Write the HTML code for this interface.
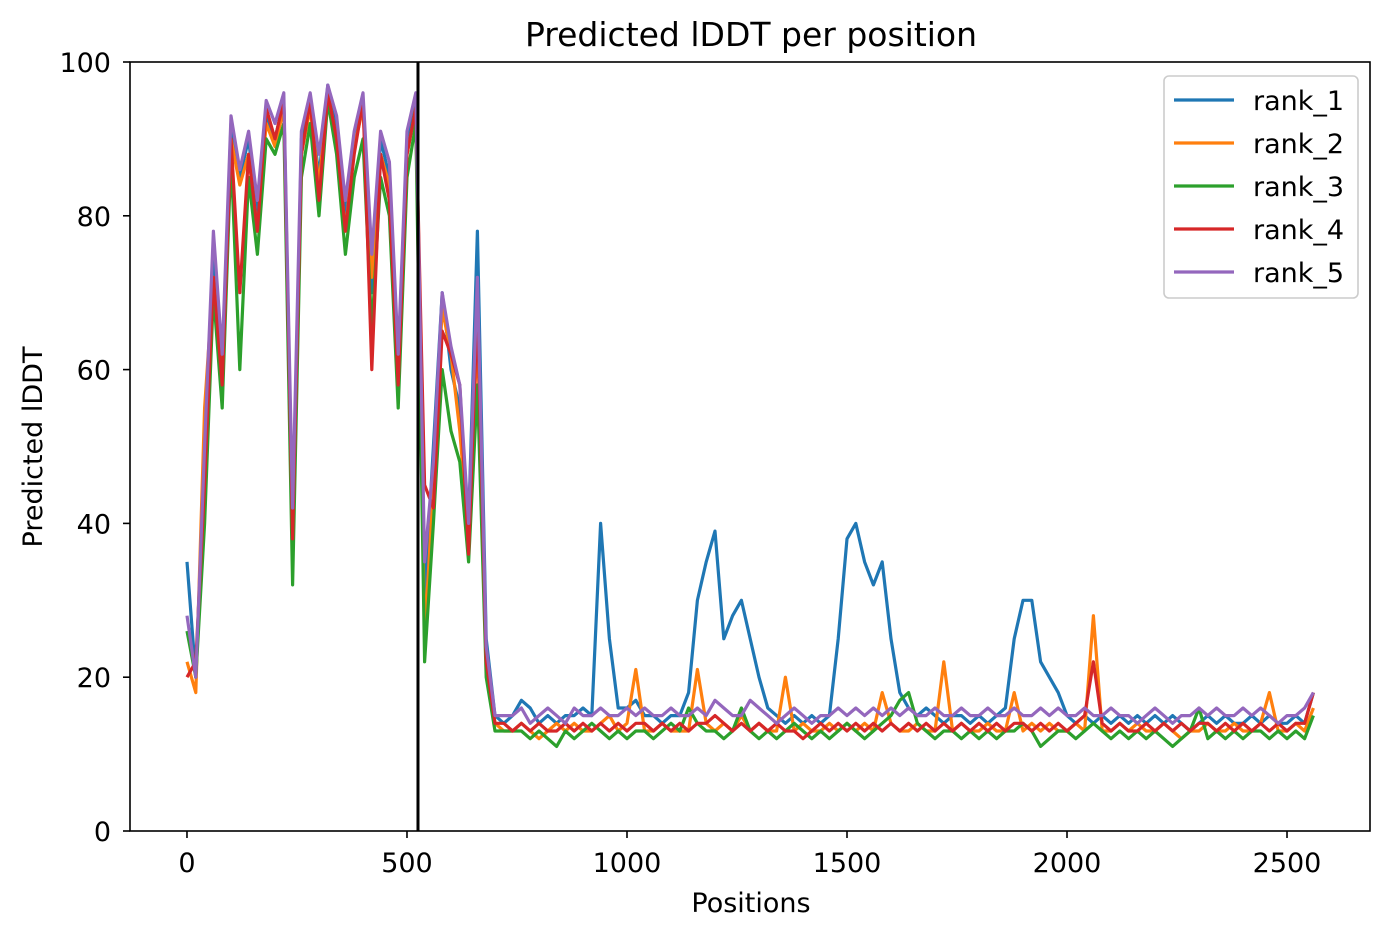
<!DOCTYPE html>
<html><head><meta charset="utf-8"><style>
body{margin:0;background:#fff;}
svg{display:block;font-family:"DejaVu Sans","Liberation Sans",sans-serif;}
</style></head><body>
<svg id="chart" width="1391" height="939" xmlns="http://www.w3.org/2000/svg">
<text x="751" y="46" style="font-size:33px" text-anchor="middle">Predicted lDDT per position</text>
<text x="751" y="912" style="font-size:27px" text-anchor="middle">Positions</text>
<text transform="translate(42,447) rotate(-90)" style="font-size:27px" text-anchor="middle">Predicted lDDT</text>
<g id="plot"></g>
</svg>
<script>
const step = 20;
const xTicks = [0,500,1000,1500,2000,2500];
const yTicks = [0,20,40,60,80,100];
const seriesNames = ["rank_1","rank_2","rank_3","rank_4","rank_5"];
const colors = ["#1f77b4","#ff7f0e","#2ca02c","#d62728","#9467bd"];
const boundary = 525;
const rank1 = [35,20,45,75,60,92,85,90,80,93,90,95,35,90,95,85,97,92,80,90,95,70,90,85,60,90,95,30,50,70,60,55,40,78,25,15,
14,15,17,16,14,15,14,15,15,16, 15,40,25,16,16,17,15,15,14,15, 15,18,30,35,39,25,28,30,25,20, 16,15,14,15,14,15,14,15,25,38,
40,35,32,35,25,18,16,15,16,15, 14,15,15,14,15,14,15,16,25,30, 30,22,20,18,15,14,15,14,15,14, 15,14,15,14,15,14,15,14,13,14,
15,14,15,14,14,15,14,15,14,14, 15,14,18];
const rank2 = [22,18,55,72,58,90,84,88,78,92,89,94,40,88,94,84,96,90,78,89,94,72,88,84,58,88,94,25,45,68,62,52,38,65,22,14,
13,13,14,13,12,13,14,13,14,13, 13,14,15,13,14,21,13,13,14,13, 13,13,21,14,13,14,13,15,13,14, 13,13,20,13,14,13,13,14,13,14,
13,14,13,18,14,13,13,14,13,13, 22,13,14,13,13,14,13,13,18,13, 14,13,14,13,13,14,13,28,13,13, 14,13,14,13,13,14,13,12,13,13,
14,13,13,14,13,13,14,18,13,13, 14,13,16];
const rank3 = [26,20,40,70,55,88,60,85,75,90,88,92,32,85,92,80,95,88,75,85,90,65,85,80,55,85,92,22,40,60,52,48,35,58,20,13,
13,13,13,12,13,12,11,13,12,13, 14,13,12,13,12,13,13,12,13,14, 13,16,14,13,13,12,13,16,13,12, 13,12,13,14,13,12,13,12,13,14,
13,12,13,14,15,17,18,14,13,12, 13,13,12,13,12,13,12,13,13,14, 13,11,12,13,13,12,13,14,13,12, 13,12,13,12,13,12,11,12,13,16,
12,13,12,13,12,13,13,12,13,12, 13,12,15];
const rank4 = [20,22,45,72,58,90,70,88,78,94,90,95,38,88,95,82,96,90,78,88,95,60,88,82,58,88,94,45,42,65,62,58,36,68,22,14,
14,13,14,13,14,13,13,14,13,14, 13,14,13,14,13,14,14,13,14,13, 14,13,14,14,15,14,13,14,13,14, 13,14,13,13,12,13,14,13,14,13,
14,13,14,13,14,13,14,13,14,13, 14,13,14,13,14,13,14,13,14,14, 13,14,13,14,13,14,15,22,14,13, 14,13,13,14,13,14,13,14,13,14,
14,13,14,13,14,13,14,13,14,13, 14,14,18];
const rank5 = [28,20,50,78,62,93,86,91,82,95,92,96,42,91,96,88,97,93,82,91,96,75,91,87,62,91,96,35,48,70,63,58,40,72,24,15,
15,15,16,14,15,16,15,14,16,15, 15,16,15,15,16,15,16,15,15,16, 15,15,16,15,17,16,15,15,17,16, 15,14,15,16,15,14,15,15,16,15,
16,15,16,15,16,15,16,15,15,16, 15,15,16,15,15,16,15,15,16,15, 15,16,15,16,15,15,16,15,15,16, 15,15,14,15,16,15,14,15,15,16,
15,16,15,15,16,15,16,15,14,15, 15,16,18];
const allSeries = [rank1,rank2,rank3,rank4,rank5];

const L=130,R=1370,T=62,B=831;
const xMin=-129.5,xMax=2688.6;
const xs=v=>L+(v-xMin)/(xMax-xMin)*(R-L);
const ys=v=>B-v/100*(B-T);
const NS="http://www.w3.org/2000/svg";
const g=document.getElementById('plot');
function mk(tag,attrs,parent){const e=document.createElementNS(NS,tag);for(const k in attrs)e.setAttribute(k,attrs[k]);(parent||g).appendChild(e);return e;}

const clip=mk('clipPath',{id:'clip'});mk('rect',{x:L,y:T,width:R-L,height:B-T},clip);
allSeries.forEach((arr,si)=>{
  const d=arr.map((v,i)=>(i?'L':'M')+xs(i*step).toFixed(1)+','+ys(v).toFixed(1)).join('');
  const p=mk('path',{d:d,fill:'none',stroke:colors[si],'stroke-width':3.2,'stroke-linejoin':'round','clip-path':'url(#clip)'});
  
  
});
const vl=mk('line',{x1:xs(boundary),x2:xs(boundary),y1:T,y2:B,stroke:'#000','stroke-width':3});



const frame=mk('rect',{x:L,y:T,width:R-L,height:B-T,fill:'none',stroke:'#000','stroke-width':1.6});



xTicks.forEach(t=>{
  mk('line',{x1:xs(t),x2:xs(t),y1:B,y2:B+7,stroke:'#000','stroke-width':1.6});
  const tx=mk('text',{x:xs(t),y:B+41,'text-anchor':'middle',style:'font-size:27px'});
  tx.textContent=t;
  
  
});
yTicks.forEach(t=>{
  mk('line',{x1:L-7,x2:L,y1:ys(t),y2:ys(t),stroke:'#000','stroke-width':1.6});
  const tx=mk('text',{x:L-19,y:ys(t)+10,'text-anchor':'end',style:'font-size:27px'});
  tx.textContent=t;
  
  
});

const lg=mk('g',{});


mk('rect',{x:1164,y:76,width:194,height:222,rx:5,fill:'#fff','fill-opacity':0.8,stroke:'#ccc','stroke-width':1.6},lg);
seriesNames.forEach((n,i)=>{
  const y=100+i*43;
  const e=mk('g',{},lg);
  
  
  mk('line',{x1:1174,x2:1234,y1:y,y2:y,stroke:colors[i],'stroke-width':3.2},e);
  const t=mk('text',{x:1253,y:y+10,style:'font-size:27px'},e);
  t.textContent=n;
});
</script>
</body></html>
